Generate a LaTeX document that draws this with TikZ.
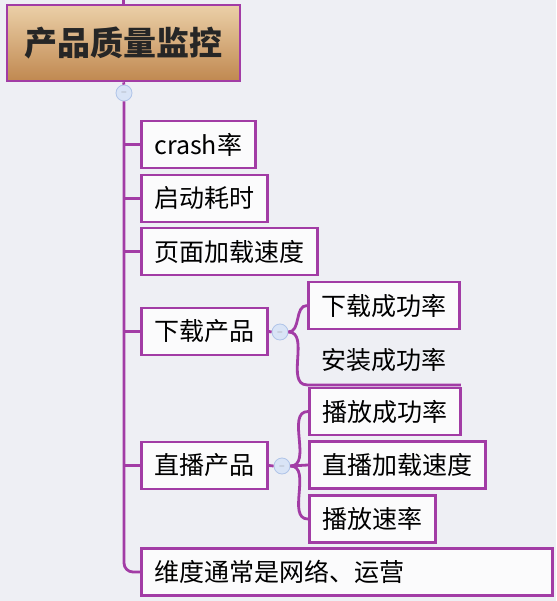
\documentclass[tikz,border=0pt]{standalone}
\usepackage{fontspec}
\newfontfamily\cjk{Noto Sans CJK SC}
\usetikzlibrary{positioning}

\definecolor{branch}{HTML}{A23CA5}
\definecolor{paper}{HTML}{EEEFF4}
\definecolor{tanhi}{HTML}{EBD0A8}
\definecolor{tanlo}{HTML}{C08850}
\definecolor{knobfill}{HTML}{D9E4F6}
\definecolor{knobdraw}{HTML}{AFC4E8}

\tikzset{
  root/.style={draw=branch, line width=2.8pt, top color=tanhi, bottom color=tanlo,
    minimum width=233pt, minimum height=76pt, text=black!85,
    font=\cjk\bfseries\fontsize{33}{33}\selectfont},
  topic/.style={draw=branch, line width=2.8pt, fill=white!75!paper, anchor=west,
    minimum height=47pt, inner xsep=13pt, font=\cjk\fontsize{25}{25}\selectfont},
  plain/.style={topic, draw=none, fill=none},
  knob/.style={circle, draw=knobdraw, fill=knobfill, line width=0.8pt, minimum size=16pt,
    inner sep=0pt, text=gray, font=\fontsize{8}{8}\selectfont},
  wire/.style={draw=branch, line width=2.8pt}
}

\begin{document}
\begin{tikzpicture}[x=1pt,y=-1pt]

\fill[paper] (0,0) rectangle (556,601);
\useasboundingbox (0,0) rectangle (556,601);

\coordinate (top) at (123.5,0);
\node[root] (qa) at (123.5,43) {产品质量监控};
\node[knob] (k0) at (124,93) {$-$};

\node[topic] (crash) at (140,144.5) {crash率};
\node[topic] (boot)  at (140,198.5) {启动耗时};
\node[topic] (page)  at (140,251.5) {页面加载速度};
\node[topic] (dlp)   at (140,331.5) {下载产品};
\node[topic] (live)  at (140,465.5) {直播产品};
\node[topic, text width=385pt, align=left] (dim) at (140,572) {维度通常是网络、运营};

\node[knob] (k1) at (280,332) {$-$};
\node[topic] (dlok) at (307,305.5) {下载成功率};
\node[plain] (inst) at (307,360) {安装成功率};

\node[knob] (k2) at (282,466) {$-$};
\node[topic] (playok)   at (308,411.5) {播放成功率};
\node[topic] (liveload) at (308,465) {直播加载速度};
\node[topic] (rate)     at (308,519) {播放速率};

% trunk
\draw[wire] (top) -- (qa.north);
\draw[wire] (qa.south) -- (k0.north);
\draw[wire, rounded corners=9pt] (k0.south) |- (dim.west);
\foreach \t in {crash,boot,page,dlp,live}
  \draw[wire] (k0.south |- \t.west) -- (\t.west);

% download
\draw[wire] (dlp.east) -- (k1.west);
\draw[wire] (k1.east) to[out=0,in=180] (dlok.west);
\draw[wire] (k1.east) to[out=0,in=180] (inst.south west) -- (inst.south east);

% live
\draw[wire] (live.east) -- (k2.west);
\draw[wire] (k2.east) to[out=0,in=180] (playok.west);
\draw[wire] (k2.east) -- (liveload.west);
\draw[wire] (k2.east) to[out=0,in=180] (rate.west);

\end{tikzpicture}
\end{document}
